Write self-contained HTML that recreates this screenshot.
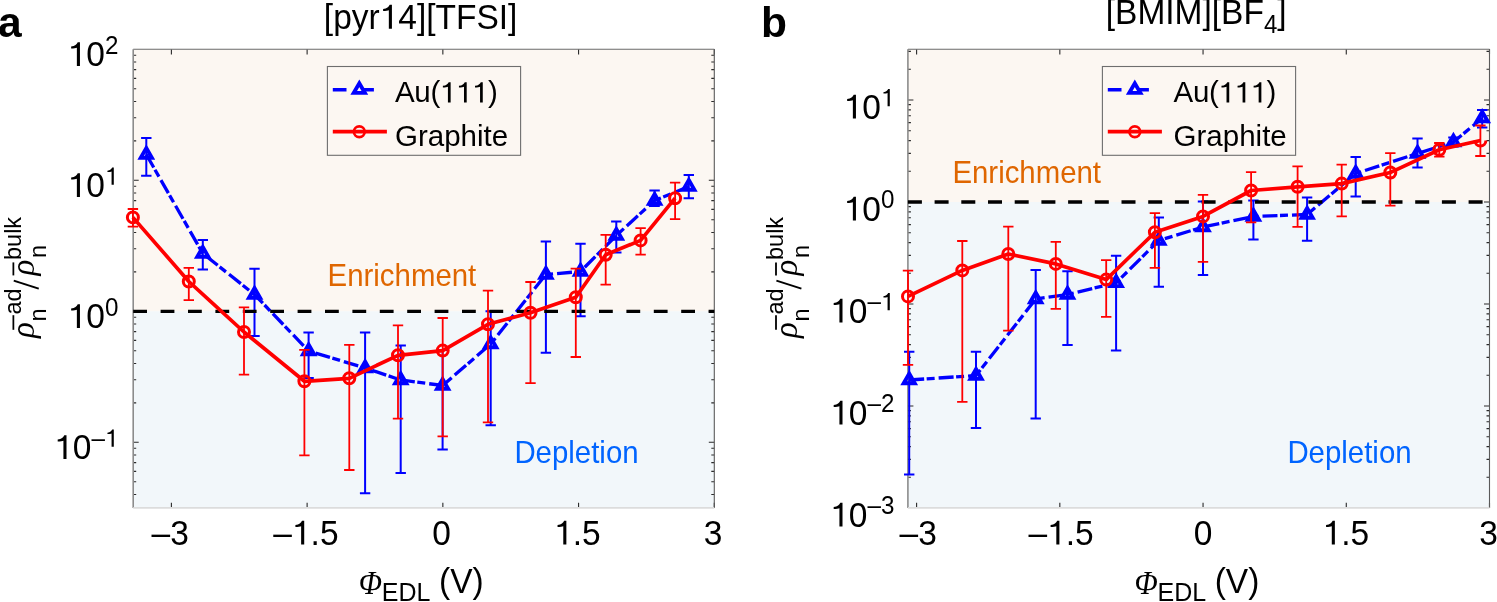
<!DOCTYPE html><html><head><meta charset="utf-8"><style>html,body{margin:0;padding:0;background:#fff;overflow:hidden}svg{display:block;will-change:transform}text{font-family:"Liberation Sans",sans-serif}</style></head><body>
<svg width="1497" height="602" viewBox="0 0 1497 602">
<rect x="133.2" y="49.3" width="581.1" height="262" fill="#FCF7F2"/>
<rect x="133.2" y="311.3" width="581.1" height="196.6" fill="#F2F7FA"/>
<text x="327.6" y="285.9" font-size="29.4" fill="#DF6600" transform="matrix(1 0 0 1.04 0 -11.44)">Enrichment</text>
<text x="514.4" y="462.7" font-size="29.4" fill="#0064FF" transform="matrix(1 0 0 1.04 0 -18.51)">Depletion</text>
<path d="M171.4 507.9v-5.2M171.4 49.3v5.2M307.12 507.9v-5.2M307.12 49.3v5.2M442.85 507.9v-5.2M442.85 49.3v5.2M578.57 507.9v-5.2M578.57 49.3v5.2M714.3 507.9v-5.2M714.3 49.3v5.2M133.2 494.43h3M714.3 494.43h-3M133.2 481.73h3M714.3 481.73h-3M133.2 471.36h3M714.3 471.36h-3M133.2 462.59h3M714.3 462.59h-3M133.2 455h3M714.3 455h-3M133.2 448.29h3M714.3 448.29h-3M133.2 442.3h5.5M714.3 442.3h-5.5M133.2 402.87h3M714.3 402.87h-3M133.2 379.8h3M714.3 379.8h-3M133.2 363.43h3M714.3 363.43h-3M133.2 350.73h3M714.3 350.73h-3M133.2 340.36h3M714.3 340.36h-3M133.2 331.59h3M714.3 331.59h-3M133.2 324h3M714.3 324h-3M133.2 317.29h3M714.3 317.29h-3M133.2 311.3h5.5M714.3 311.3h-5.5M133.2 271.87h3M714.3 271.87h-3M133.2 248.8h3M714.3 248.8h-3M133.2 232.43h3M714.3 232.43h-3M133.2 219.73h3M714.3 219.73h-3M133.2 209.36h3M714.3 209.36h-3M133.2 200.59h3M714.3 200.59h-3M133.2 193h3M714.3 193h-3M133.2 186.29h3M714.3 186.29h-3M133.2 180.3h5.5M714.3 180.3h-5.5M133.2 140.87h3M714.3 140.87h-3M133.2 117.8h3M714.3 117.8h-3M133.2 101.43h3M714.3 101.43h-3M133.2 88.73h3M714.3 88.73h-3M133.2 78.36h3M714.3 78.36h-3M133.2 69.59h3M714.3 69.59h-3M133.2 62h3M714.3 62h-3M133.2 55.29h3M714.3 55.29h-3" stroke="#2a2a2a" stroke-width="1.1" fill="none"/>
<path d="M133.2 49.3H714.3" stroke="#6a6a6a" stroke-width="1.1"/>
<path d="M714.3 49.3V507.9" stroke="#5a5a5a" stroke-width="1.1"/>
<path d="M133.2 49.3V507.9" stroke="#8c8c8c" stroke-width="1.6"/>
<path d="M133.2 507.9H714.3" stroke="#dcdcdc" stroke-width="1.6"/>
<path d="M146.3 138V175.7M141.1 138h10.4M141.1 175.7h10.4M202.8 240V269.5M197.6 240h10.4M197.6 269.5h10.4M254.5 268.8V336M249.3 268.8h10.4M249.3 336h10.4M308.6 332.6V378M303.4 332.6h10.4M303.4 378h10.4M365.1 332.6V493.3M359.9 332.6h10.4M359.9 493.3h10.4M400.7 345.4V473M395.5 345.4h10.4M395.5 473h10.4M442.6 350V449.6M437.4 350h10.4M437.4 449.6h10.4M490.7 311.3V425.3M485.5 311.3h10.4M485.5 425.3h10.4M545.9 241.4V352.7M540.7 241.4h10.4M540.7 352.7h10.4M580.5 243.8V316.2M575.3 243.8h10.4M575.3 316.2h10.4M616.3 221.5V252.4M611.1 221.5h10.4M611.1 252.4h10.4M654.6 190.6V205.9M649.4 190.6h10.4M649.4 205.9h10.4M688.8 175V198.2M683.6 175h10.4M683.6 198.2h10.4" stroke="#0000FF" stroke-width="2" fill="none"/>
<polyline points="146.3,154.5 202.8,253.5 254.5,294.5 308.6,351 365.1,368 400.7,380 442.6,385.5 490.7,344 545.9,274.5 580.5,271.5 616.3,235.5 654.6,200.5 688.8,186.5" stroke="#0000FF" stroke-width="3.3" fill="none" stroke-dasharray="15 2.5 8 4"/>
<path d="M146.3 148L151.93 157.75H140.67ZM202.8 247L208.43 256.75H197.17ZM254.5 288L260.13 297.75H248.87ZM308.6 344.5L314.23 354.25H302.97ZM365.1 361.5L370.73 371.25H359.47ZM400.7 373.5L406.33 383.25H395.07ZM442.6 379L448.23 388.75H436.97ZM490.7 337.5L496.33 347.25H485.07ZM545.9 268L551.53 277.75H540.27ZM580.5 265L586.13 274.75H574.87ZM616.3 229L621.93 238.75H610.67ZM654.6 194L660.23 203.75H648.97ZM688.8 180L694.43 189.75H683.17Z" stroke="#0000FF" stroke-width="3.8" fill="none" stroke-linejoin="miter" stroke-miterlimit="10"/>
<path d="M133.2 311.3H714.3" stroke="#000" stroke-width="3.3" stroke-dasharray="13.8 13.6"/>
<path d="M132.9 209V226.6M127.7 209h10.4M127.7 226.6h10.4M188.8 267.9V300.1M183.6 267.9h10.4M183.6 300.1h10.4M244 307.4V374.6M238.8 307.4h10.4M238.8 374.6h10.4M304.4 349.9V455.4M299.2 349.9h10.4M299.2 455.4h10.4M349.3 344.8V470M344.1 344.8h10.4M344.1 470h10.4M398 325.4V418.6M392.8 325.4h10.4M392.8 418.6h10.4M442.7 318V436.3M437.5 318h10.4M437.5 436.3h10.4M488 290.6V422.3M482.8 290.6h10.4M482.8 422.3h10.4M530.5 282V383.1M525.3 282h10.4M525.3 383.1h10.4M575.8 268.7V357M570.6 268.7h10.4M570.6 357h10.4M605.7 234.8V284.6M600.5 234.8h10.4M600.5 284.6h10.4M640.6 228.1V254.7M635.4 228.1h10.4M635.4 254.7h10.4M675.1 182.6V219.2M669.9 182.6h10.4M669.9 219.2h10.4" stroke="#FF0000" stroke-width="1.8" fill="none"/>
<polyline points="132.9,217.4 188.8,281.5 244,332 304.4,381.3 349.3,378.3 398,355.3 442.7,350.6 488,324.3 530.5,312.8 575.8,297.2 605.7,254.7 640.6,240.4 675.1,198.2" stroke="#FF0000" stroke-width="3.7" fill="none" stroke-linejoin="round"/>
<path d="M127.4 217.4a5.5 5.5 0 1 0 11 0a5.5 5.5 0 1 0 -11 0M183.3 281.5a5.5 5.5 0 1 0 11 0a5.5 5.5 0 1 0 -11 0M238.5 332a5.5 5.5 0 1 0 11 0a5.5 5.5 0 1 0 -11 0M298.9 381.3a5.5 5.5 0 1 0 11 0a5.5 5.5 0 1 0 -11 0M343.8 378.3a5.5 5.5 0 1 0 11 0a5.5 5.5 0 1 0 -11 0M392.5 355.3a5.5 5.5 0 1 0 11 0a5.5 5.5 0 1 0 -11 0M437.2 350.6a5.5 5.5 0 1 0 11 0a5.5 5.5 0 1 0 -11 0M482.5 324.3a5.5 5.5 0 1 0 11 0a5.5 5.5 0 1 0 -11 0M525 312.8a5.5 5.5 0 1 0 11 0a5.5 5.5 0 1 0 -11 0M570.3 297.2a5.5 5.5 0 1 0 11 0a5.5 5.5 0 1 0 -11 0M600.2 254.7a5.5 5.5 0 1 0 11 0a5.5 5.5 0 1 0 -11 0M635.1 240.4a5.5 5.5 0 1 0 11 0a5.5 5.5 0 1 0 -11 0M669.6 198.2a5.5 5.5 0 1 0 11 0a5.5 5.5 0 1 0 -11 0" stroke="#FF0000" stroke-width="3" fill="none"/>
<rect x="327.4" y="66.5" width="193.2" height="88.8" fill="none" stroke="#6e6e6e" stroke-width="1.1"/>
<path d="M332.8 89.7h13.7M363.4 89.7H373.9" stroke="#0000FF" stroke-width="3.6"/>
<path d="M359.3 83.2L364.93 92.95H353.67Z" stroke="#0000FF" stroke-width="3.8" fill="none" stroke-miterlimit="10"/>
<path d="M332.8 131.7H386.9" stroke="#FF0000" stroke-width="3.7"/>
<circle cx="359.3" cy="131.7" r="5.4" stroke="#FF0000" stroke-width="2.7" fill="none"/>
<text class="nv" x="395" y="102.4" font-size="29.5" letter-spacing="-0.35">Au(   )</text>
<text class="nv" x="395" y="145.6" font-size="29.5">Graphite</text>
<text x="170.2" y="544.6" font-size="33.5" text-anchor="middle" transform="matrix(1 0 0 1.04 0 -21.78)">–3</text>
<text x="305.93" y="544.6" font-size="33.5" text-anchor="middle" transform="matrix(1 0 0 1.04 0 -21.78)">– .5</text>
<text x="441.65" y="544.6" font-size="33.5" text-anchor="middle" transform="matrix(1 0 0 1.04 0 -21.78)">0</text>
<text x="577.37" y="544.6" font-size="33.5" text-anchor="middle" transform="matrix(1 0 0 1.04 0 -21.78)"> .5</text>
<text x="713.1" y="544.6" font-size="33.5" text-anchor="middle" transform="matrix(1 0 0 1.04 0 -21.78)">3</text>
<text x="118.4" y="66.1" font-size="33.5" text-anchor="end" transform="matrix(1 0 0 1.04 0 -2.64)"> 0<tspan font-size="24.2" dy="-11.8">2</tspan></text>
<text x="118.4" y="197.1" font-size="33.5" text-anchor="end" transform="matrix(1 0 0 1.04 0 -7.88)"> 0<tspan font-size="24.2" dy="-11.8"> </tspan></text>
<text x="118.4" y="328.1" font-size="33.5" text-anchor="end" transform="matrix(1 0 0 1.04 0 -13.12)"> 0<tspan font-size="24.2" dy="-11.8">0</tspan></text>
<text x="118.4" y="459.1" font-size="33.5" text-anchor="end" transform="matrix(1 0 0 1.04 0 -18.36)"> 0<tspan font-size="24.2" dy="-11.8">– </tspan></text>
<rect x="907.9" y="49.3" width="581.6" height="152.7" fill="#FCF7F2"/>
<rect x="907.9" y="202" width="581.6" height="305.9" fill="#F2F7FA"/>
<text x="952.4" y="183.1" font-size="29.4" fill="#DF6600" transform="matrix(1 0 0 1.04 0 -7.32)">Enrichment</text>
<text x="1287.4" y="462.6" font-size="29.4" fill="#0064FF" transform="matrix(1 0 0 1.04 0 -18.5)">Depletion</text>
<path d="M916.6 507.9v-5.2M916.6 49.3v5.2M1059.83 507.9v-5.2M1059.83 49.3v5.2M1203.05 507.9v-5.2M1203.05 49.3v5.2M1346.28 507.9v-5.2M1346.28 49.3v5.2M1489.5 507.9v-5.2M1489.5 49.3v5.2M907.9 477.29h3M1489.5 477.29h-3M907.9 459.33h3M1489.5 459.33h-3M907.9 446.59h3M1489.5 446.59h-3M907.9 436.71h3M1489.5 436.71h-3M907.9 428.63h3M1489.5 428.63h-3M907.9 421.8h3M1489.5 421.8h-3M907.9 415.88h3M1489.5 415.88h-3M907.9 410.67h3M1489.5 410.67h-3M907.9 406h5.5M1489.5 406h-5.5M907.9 375.29h3M1489.5 375.29h-3M907.9 357.33h3M1489.5 357.33h-3M907.9 344.59h3M1489.5 344.59h-3M907.9 334.71h3M1489.5 334.71h-3M907.9 326.63h3M1489.5 326.63h-3M907.9 319.8h3M1489.5 319.8h-3M907.9 313.88h3M1489.5 313.88h-3M907.9 308.67h3M1489.5 308.67h-3M907.9 304h5.5M1489.5 304h-5.5M907.9 273.29h3M1489.5 273.29h-3M907.9 255.33h3M1489.5 255.33h-3M907.9 242.59h3M1489.5 242.59h-3M907.9 232.71h3M1489.5 232.71h-3M907.9 224.63h3M1489.5 224.63h-3M907.9 217.8h3M1489.5 217.8h-3M907.9 211.88h3M1489.5 211.88h-3M907.9 206.67h3M1489.5 206.67h-3M907.9 202h5.5M1489.5 202h-5.5M907.9 171.29h3M1489.5 171.29h-3M907.9 153.33h3M1489.5 153.33h-3M907.9 140.59h3M1489.5 140.59h-3M907.9 130.71h3M1489.5 130.71h-3M907.9 122.63h3M1489.5 122.63h-3M907.9 115.8h3M1489.5 115.8h-3M907.9 109.88h3M1489.5 109.88h-3M907.9 104.67h3M1489.5 104.67h-3M907.9 100h5.5M1489.5 100h-5.5M907.9 69.29h3M1489.5 69.29h-3M907.9 51.33h3M1489.5 51.33h-3" stroke="#2a2a2a" stroke-width="1.1" fill="none"/>
<path d="M907.9 49.3H1489.5" stroke="#6a6a6a" stroke-width="1.1"/>
<path d="M1489.5 49.3V507.9" stroke="#5a5a5a" stroke-width="1.1"/>
<path d="M907.9 49.3V507.9" stroke="#8c8c8c" stroke-width="1.6"/>
<path d="M907.9 507.9H1489.5" stroke="#dcdcdc" stroke-width="1.6"/>
<path d="M909.2 351.7V474.6M904 351.7h10.4M904 474.6h10.4M976 351.7V428M970.8 351.7h10.4M970.8 428h10.4M1035.7 270V418.5M1030.5 270h10.4M1030.5 418.5h10.4M1067.5 271.2V345M1062.3 271.2h10.4M1062.3 345h10.4M1116.1 255.8V350.5M1110.9 255.8h10.4M1110.9 350.5h10.4M1158.8 217.4V286.8M1153.6 217.4h10.4M1153.6 286.8h10.4M1203 201.5V275.1M1197.8 201.5h10.4M1197.8 275.1h10.4M1253.4 200.5V239.6M1248.2 200.5h10.4M1248.2 239.6h10.4M1307.1 197.6V240.8M1301.9 197.6h10.4M1301.9 240.8h10.4M1355.7 157V196.5M1350.5 157h10.4M1350.5 196.5h10.4M1417.5 138.6V167.4M1412.3 138.6h10.4M1412.3 167.4h10.4M1453.4 137.6V146.6M1448.2 137.6h10.4M1448.2 146.6h10.4M1482.2 110V127.6M1477 110h10.4M1477 127.6h10.4" stroke="#0000FF" stroke-width="2" fill="none"/>
<polyline points="909.2,380 976,375.5 1035.7,299 1067.5,294.5 1116.1,282.8 1158.8,240.5 1203,227 1253.4,216.5 1307.1,214.5 1355.7,173.5 1417.5,153.5 1453.4,142 1482.2,118.2" stroke="#0000FF" stroke-width="3.3" fill="none" stroke-dasharray="15 2.5 8 4"/>
<path d="M909.2 373.5L914.83 383.25H903.57ZM976 369L981.63 378.75H970.37ZM1035.7 292.5L1041.33 302.25H1030.07ZM1067.5 288L1073.13 297.75H1061.87ZM1116.1 276.3L1121.73 286.05H1110.47ZM1158.8 234L1164.43 243.75H1153.17ZM1203 220.5L1208.63 230.25H1197.37ZM1253.4 210L1259.03 219.75H1247.77ZM1307.1 208L1312.73 217.75H1301.47ZM1355.7 167L1361.33 176.75H1350.07ZM1417.5 147L1423.13 156.75H1411.87ZM1453.4 135.5L1459.03 145.25H1447.77ZM1482.2 111.7L1487.83 121.45H1476.57Z" stroke="#0000FF" stroke-width="3.8" fill="none" stroke-linejoin="miter" stroke-miterlimit="10"/>
<path d="M907.9 202H1489.5" stroke="#000" stroke-width="3.3" stroke-dasharray="14 12.7"/>
<path d="M908 270.7V364.9M902.8 270.7h10.4M902.8 364.9h10.4M962.3 241V401.8M957.1 241h10.4M957.1 401.8h10.4M1008.3 226.6V330.7M1003.1 226.6h10.4M1003.1 330.7h10.4M1055.8 241.9V308.8M1050.6 241.9h10.4M1050.6 308.8h10.4M1106.2 260.2V316.9M1101 260.2h10.4M1101 316.9h10.4M1154.9 213.1V267.8M1149.7 213.1h10.4M1149.7 267.8h10.4M1203 194.8V261.9M1197.8 194.8h10.4M1197.8 261.9h10.4M1251.1 172.2V222.4M1245.9 172.2h10.4M1245.9 222.4h10.4M1297.6 166.3V226.8M1292.4 166.3h10.4M1292.4 226.8h10.4M1341.7 164.6V216.4M1336.5 164.6h10.4M1336.5 216.4h10.4M1390.3 153.1V205.6M1385.1 153.1h10.4M1385.1 205.6h10.4M1439.3 143V156.7M1434.1 143h10.4M1434.1 156.7h10.4M1480.4 125.5V156M1475.2 125.5h10.4M1475.2 156h10.4" stroke="#FF0000" stroke-width="1.8" fill="none"/>
<polyline points="908,296.4 962.3,270.4 1008.3,254 1055.8,263.9 1106.2,279.6 1154.9,232.3 1203,216.4 1251.1,190.5 1297.6,186.8 1341.7,183.6 1390.3,172.5 1439.3,149.8 1480.4,140.5" stroke="#FF0000" stroke-width="3.7" fill="none" stroke-linejoin="round"/>
<path d="M902.5 296.4a5.5 5.5 0 1 0 11 0a5.5 5.5 0 1 0 -11 0M956.8 270.4a5.5 5.5 0 1 0 11 0a5.5 5.5 0 1 0 -11 0M1002.8 254a5.5 5.5 0 1 0 11 0a5.5 5.5 0 1 0 -11 0M1050.3 263.9a5.5 5.5 0 1 0 11 0a5.5 5.5 0 1 0 -11 0M1100.7 279.6a5.5 5.5 0 1 0 11 0a5.5 5.5 0 1 0 -11 0M1149.4 232.3a5.5 5.5 0 1 0 11 0a5.5 5.5 0 1 0 -11 0M1197.5 216.4a5.5 5.5 0 1 0 11 0a5.5 5.5 0 1 0 -11 0M1245.6 190.5a5.5 5.5 0 1 0 11 0a5.5 5.5 0 1 0 -11 0M1292.1 186.8a5.5 5.5 0 1 0 11 0a5.5 5.5 0 1 0 -11 0M1336.2 183.6a5.5 5.5 0 1 0 11 0a5.5 5.5 0 1 0 -11 0M1384.8 172.5a5.5 5.5 0 1 0 11 0a5.5 5.5 0 1 0 -11 0M1433.8 149.8a5.5 5.5 0 1 0 11 0a5.5 5.5 0 1 0 -11 0M1474.9 140.5A5.5 5.5 0 0 0 1485.9 140.5" stroke="#FF0000" stroke-width="3" fill="none"/>
<rect x="1102.4" y="66.5" width="193.2" height="88.8" fill="none" stroke="#6e6e6e" stroke-width="1.1"/>
<path d="M1107.8 89.7h13.7M1138.4 89.7H1148.9" stroke="#0000FF" stroke-width="3.6"/>
<path d="M1134.8 83.2L1140.43 92.95H1129.17Z" stroke="#0000FF" stroke-width="3.8" fill="none" stroke-miterlimit="10"/>
<path d="M1107.8 131.7H1161.9" stroke="#FF0000" stroke-width="3.7"/>
<circle cx="1134.8" cy="131.7" r="5.4" stroke="#FF0000" stroke-width="2.7" fill="none"/>
<text class="nv" x="1173.6" y="102.4" font-size="29.5" letter-spacing="-0.35">Au(   )</text>
<text class="nv" x="1173.6" y="145.6" font-size="29.5">Graphite</text>
<text x="918.2" y="544.6" font-size="33.5" text-anchor="middle" transform="matrix(1 0 0 1.04 0 -21.78)">–3</text>
<text x="1061.12" y="544.6" font-size="33.5" text-anchor="middle" transform="matrix(1 0 0 1.04 0 -21.78)">– .5</text>
<text x="1202.95" y="544.6" font-size="33.5" text-anchor="middle" transform="matrix(1 0 0 1.04 0 -21.78)">0</text>
<text x="1345.88" y="544.6" font-size="33.5" text-anchor="middle" transform="matrix(1 0 0 1.04 0 -21.78)"> .5</text>
<text x="1488.6" y="544.6" font-size="33.5" text-anchor="middle" transform="matrix(1 0 0 1.04 0 -21.78)">3</text>
<text x="894.4" y="118.6" font-size="33.5" text-anchor="end" transform="matrix(1 0 0 1.04 0 -4.74)"> 0<tspan font-size="24.2" dy="-11.8"> </tspan></text>
<text x="894.4" y="220.6" font-size="33.5" text-anchor="end" transform="matrix(1 0 0 1.04 0 -8.82)"> 0<tspan font-size="24.2" dy="-11.8">0</tspan></text>
<text x="894.4" y="322.6" font-size="33.5" text-anchor="end" transform="matrix(1 0 0 1.04 0 -12.9)"> 0<tspan font-size="24.2" dy="-11.8">– </tspan></text>
<text x="894.4" y="424.6" font-size="33.5" text-anchor="end" transform="matrix(1 0 0 1.04 0 -16.98)"> 0<tspan font-size="24.2" dy="-11.8">–2</tspan></text>
<text x="894.4" y="526.6" font-size="33.5" text-anchor="end" transform="matrix(1 0 0 1.04 0 -21.06)"> 0<tspan font-size="24.2" dy="-11.8">–3</tspan></text>
<text x="420.6" y="28.7" font-size="33.5" text-anchor="middle" transform="matrix(1 0 0 1.04 0 -1.15)">[pyr 4][TFSI]</text>
<text x="1105.8" y="24.2" font-size="33.5" transform="matrix(1 0 0 1.04 0 -0.97)">[BMIM][BF<tspan font-size="24" dy="8.4">4</tspan><tspan dy="-8.4">]</tspan></text>
<text class="nv" x="-2" y="36.7" font-size="42.5" font-weight="bold">a</text>
<text class="nv" x="761" y="36.7" font-size="42.5" font-weight="bold">b</text>
<text transform="translate(358.8,593.6) scale(0.9,1.02)" font-size="34" font-style="italic" style="font-family:'Liberation Serif',serif">Φ</text>
<text x="381.8" y="600.9" font-size="25" transform="matrix(1 0 0 1.04 0 -24.04)">EDL</text>
<text x="439" y="593.3" font-size="33.5" transform="matrix(1 0 0 1.04 0 -23.73)">(V)</text>
<text transform="translate(1134.5,593.6) scale(0.9,1.02)" font-size="34" font-style="italic" style="font-family:'Liberation Serif',serif">Φ</text>
<text x="1157.5" y="600.9" font-size="25" transform="matrix(1 0 0 1.04 0 -24.04)">EDL</text>
<text x="1214.7" y="593.3" font-size="33.5" transform="matrix(1 0 0 1.04 0 -23.73)">(V)</text>
<g transform="translate(34,339) rotate(-90)"><text x="1" y="0" font-size="33" font-style="italic" style="font-family:'Liberation Serif',serif">ρ</text><path d="M9.2 -20.7H23.8M63.6 -20.7H76.6" stroke="#000" stroke-width="1.8"/><text x="17.5" y="12" font-size="23.5" transform="matrix(1 0 0 1.04 0 -0.48)">n</text><text x="24.5" y="-13.5" font-size="23.5" transform="matrix(1 0 0 1.04 0 0.54)">ad</text><path d="M50.35 4.7L58.35 -20.3" stroke="#000" stroke-width="1.9"/><text x="63.5" y="0" font-size="33" font-style="italic" style="font-family:'Liberation Serif',serif">ρ</text><text x="81" y="12" font-size="23.5" transform="matrix(1 0 0 1.04 0 -0.48)">n</text><text x="79" y="-13.5" font-size="23.5" transform="matrix(1 0 0 1.04 0 0.54)">bulk</text></g>
<g transform="translate(796.7,339) rotate(-90)"><text x="1" y="0" font-size="33" font-style="italic" style="font-family:'Liberation Serif',serif">ρ</text><path d="M9.2 -20.7H23.8M63.6 -20.7H76.6" stroke="#000" stroke-width="1.8"/><text x="17.5" y="12" font-size="23.5" transform="matrix(1 0 0 1.04 0 -0.48)">n</text><text x="24.5" y="-13.5" font-size="23.5" transform="matrix(1 0 0 1.04 0 0.54)">ad</text><path d="M50.35 4.7L58.35 -20.3" stroke="#000" stroke-width="1.9"/><text x="63.5" y="0" font-size="33" font-style="italic" style="font-family:'Liberation Serif',serif">ρ</text><text x="81" y="12" font-size="23.5" transform="matrix(1 0 0 1.04 0 -0.48)">n</text><text x="79" y="-13.5" font-size="23.5" transform="matrix(1 0 0 1.04 0 0.54)">bulk</text></g>
<g fill="#000"><path transform=" translate(439.84,102.40) scale(29.50)" d="M0.366 0V-0.685H0.300C0.270 -0.630 0.220 -0.575 0.103 -0.562V-0.507C0.180 -0.507 0.250 -0.515 0.274 -0.530V0Z"/><path transform=" translate(455.91,102.40) scale(29.50)" d="M0.366 0V-0.685H0.300C0.270 -0.630 0.220 -0.575 0.103 -0.562V-0.507C0.180 -0.507 0.250 -0.515 0.274 -0.530V0Z"/><path transform=" translate(471.97,102.40) scale(29.50)" d="M0.366 0V-0.685H0.300C0.270 -0.630 0.220 -0.575 0.103 -0.562V-0.507C0.180 -0.507 0.250 -0.515 0.274 -0.530V0Z"/><path transform="matrix(1 0 0 1.04 0 -21.78) translate(291.95,544.60) scale(33.50)" d="M0.366 0V-0.685H0.300C0.270 -0.630 0.220 -0.575 0.103 -0.562V-0.507C0.180 -0.507 0.250 -0.515 0.274 -0.530V0Z"/><path transform="matrix(1 0 0 1.04 0 -21.78) translate(554.10,544.60) scale(33.50)" d="M0.366 0V-0.685H0.300C0.270 -0.630 0.220 -0.575 0.103 -0.562V-0.507C0.180 -0.507 0.250 -0.515 0.274 -0.530V0Z"/><path transform="matrix(1 0 0 1.04 0 -2.64) translate(67.69,66.10) scale(33.50)" d="M0.366 0V-0.685H0.300C0.270 -0.630 0.220 -0.575 0.103 -0.562V-0.507C0.180 -0.507 0.250 -0.515 0.274 -0.530V0Z"/><path transform="matrix(1 0 0 1.04 0 -7.88) translate(67.69,197.10) scale(33.50)" d="M0.366 0V-0.685H0.300C0.270 -0.630 0.220 -0.575 0.103 -0.562V-0.507C0.180 -0.507 0.250 -0.515 0.274 -0.530V0Z"/><path transform="matrix(1 0 0 1.04 0 -7.88) translate(104.94,185.30) scale(24.20)" d="M0.366 0V-0.685H0.300C0.270 -0.630 0.220 -0.575 0.103 -0.562V-0.507C0.180 -0.507 0.250 -0.515 0.274 -0.530V0Z"/><path transform="matrix(1 0 0 1.04 0 -13.12) translate(67.69,328.10) scale(33.50)" d="M0.366 0V-0.685H0.300C0.270 -0.630 0.220 -0.575 0.103 -0.562V-0.507C0.180 -0.507 0.250 -0.515 0.274 -0.530V0Z"/><path transform="matrix(1 0 0 1.04 0 -18.36) translate(54.24,459.10) scale(33.50)" d="M0.366 0V-0.685H0.300C0.270 -0.630 0.220 -0.575 0.103 -0.562V-0.507C0.180 -0.507 0.250 -0.515 0.274 -0.530V0Z"/><path transform="matrix(1 0 0 1.04 0 -18.36) translate(104.94,447.30) scale(24.20)" d="M0.366 0V-0.685H0.300C0.270 -0.630 0.220 -0.575 0.103 -0.562V-0.507C0.180 -0.507 0.250 -0.515 0.274 -0.530V0Z"/><path transform=" translate(1218.44,102.40) scale(29.50)" d="M0.366 0V-0.685H0.300C0.270 -0.630 0.220 -0.575 0.103 -0.562V-0.507C0.180 -0.507 0.250 -0.515 0.274 -0.530V0Z"/><path transform=" translate(1234.51,102.40) scale(29.50)" d="M0.366 0V-0.685H0.300C0.270 -0.630 0.220 -0.575 0.103 -0.562V-0.507C0.180 -0.507 0.250 -0.515 0.274 -0.530V0Z"/><path transform=" translate(1250.57,102.40) scale(29.50)" d="M0.366 0V-0.685H0.300C0.270 -0.630 0.220 -0.575 0.103 -0.562V-0.507C0.180 -0.507 0.250 -0.515 0.274 -0.530V0Z"/><path transform="matrix(1 0 0 1.04 0 -21.78) translate(1047.14,544.60) scale(33.50)" d="M0.366 0V-0.685H0.300C0.270 -0.630 0.220 -0.575 0.103 -0.562V-0.507C0.180 -0.507 0.250 -0.515 0.274 -0.530V0Z"/><path transform="matrix(1 0 0 1.04 0 -21.78) translate(1322.61,544.60) scale(33.50)" d="M0.366 0V-0.685H0.300C0.270 -0.630 0.220 -0.575 0.103 -0.562V-0.507C0.180 -0.507 0.250 -0.515 0.274 -0.530V0Z"/><path transform="matrix(1 0 0 1.04 0 -4.74) translate(843.69,118.60) scale(33.50)" d="M0.366 0V-0.685H0.300C0.270 -0.630 0.220 -0.575 0.103 -0.562V-0.507C0.180 -0.507 0.250 -0.515 0.274 -0.530V0Z"/><path transform="matrix(1 0 0 1.04 0 -4.74) translate(880.94,106.80) scale(24.20)" d="M0.366 0V-0.685H0.300C0.270 -0.630 0.220 -0.575 0.103 -0.562V-0.507C0.180 -0.507 0.250 -0.515 0.274 -0.530V0Z"/><path transform="matrix(1 0 0 1.04 0 -8.82) translate(843.69,220.60) scale(33.50)" d="M0.366 0V-0.685H0.300C0.270 -0.630 0.220 -0.575 0.103 -0.562V-0.507C0.180 -0.507 0.250 -0.515 0.274 -0.530V0Z"/><path transform="matrix(1 0 0 1.04 0 -12.9) translate(830.24,322.60) scale(33.50)" d="M0.366 0V-0.685H0.300C0.270 -0.630 0.220 -0.575 0.103 -0.562V-0.507C0.180 -0.507 0.250 -0.515 0.274 -0.530V0Z"/><path transform="matrix(1 0 0 1.04 0 -12.9) translate(880.94,310.80) scale(24.20)" d="M0.366 0V-0.685H0.300C0.270 -0.630 0.220 -0.575 0.103 -0.562V-0.507C0.180 -0.507 0.250 -0.515 0.274 -0.530V0Z"/><path transform="matrix(1 0 0 1.04 0 -16.98) translate(830.24,424.60) scale(33.50)" d="M0.366 0V-0.685H0.300C0.270 -0.630 0.220 -0.575 0.103 -0.562V-0.507C0.180 -0.507 0.250 -0.515 0.274 -0.530V0Z"/><path transform="matrix(1 0 0 1.04 0 -21.06) translate(830.24,526.60) scale(33.50)" d="M0.366 0V-0.685H0.300C0.270 -0.630 0.220 -0.575 0.103 -0.562V-0.507C0.180 -0.507 0.250 -0.515 0.274 -0.530V0Z"/><path transform="matrix(1 0 0 1.04 0 -1.15) translate(379.66,28.70) scale(33.50)" d="M0.366 0V-0.685H0.300C0.270 -0.630 0.220 -0.575 0.103 -0.562V-0.507C0.180 -0.507 0.250 -0.515 0.274 -0.530V0Z"/></g></svg></body></html>
